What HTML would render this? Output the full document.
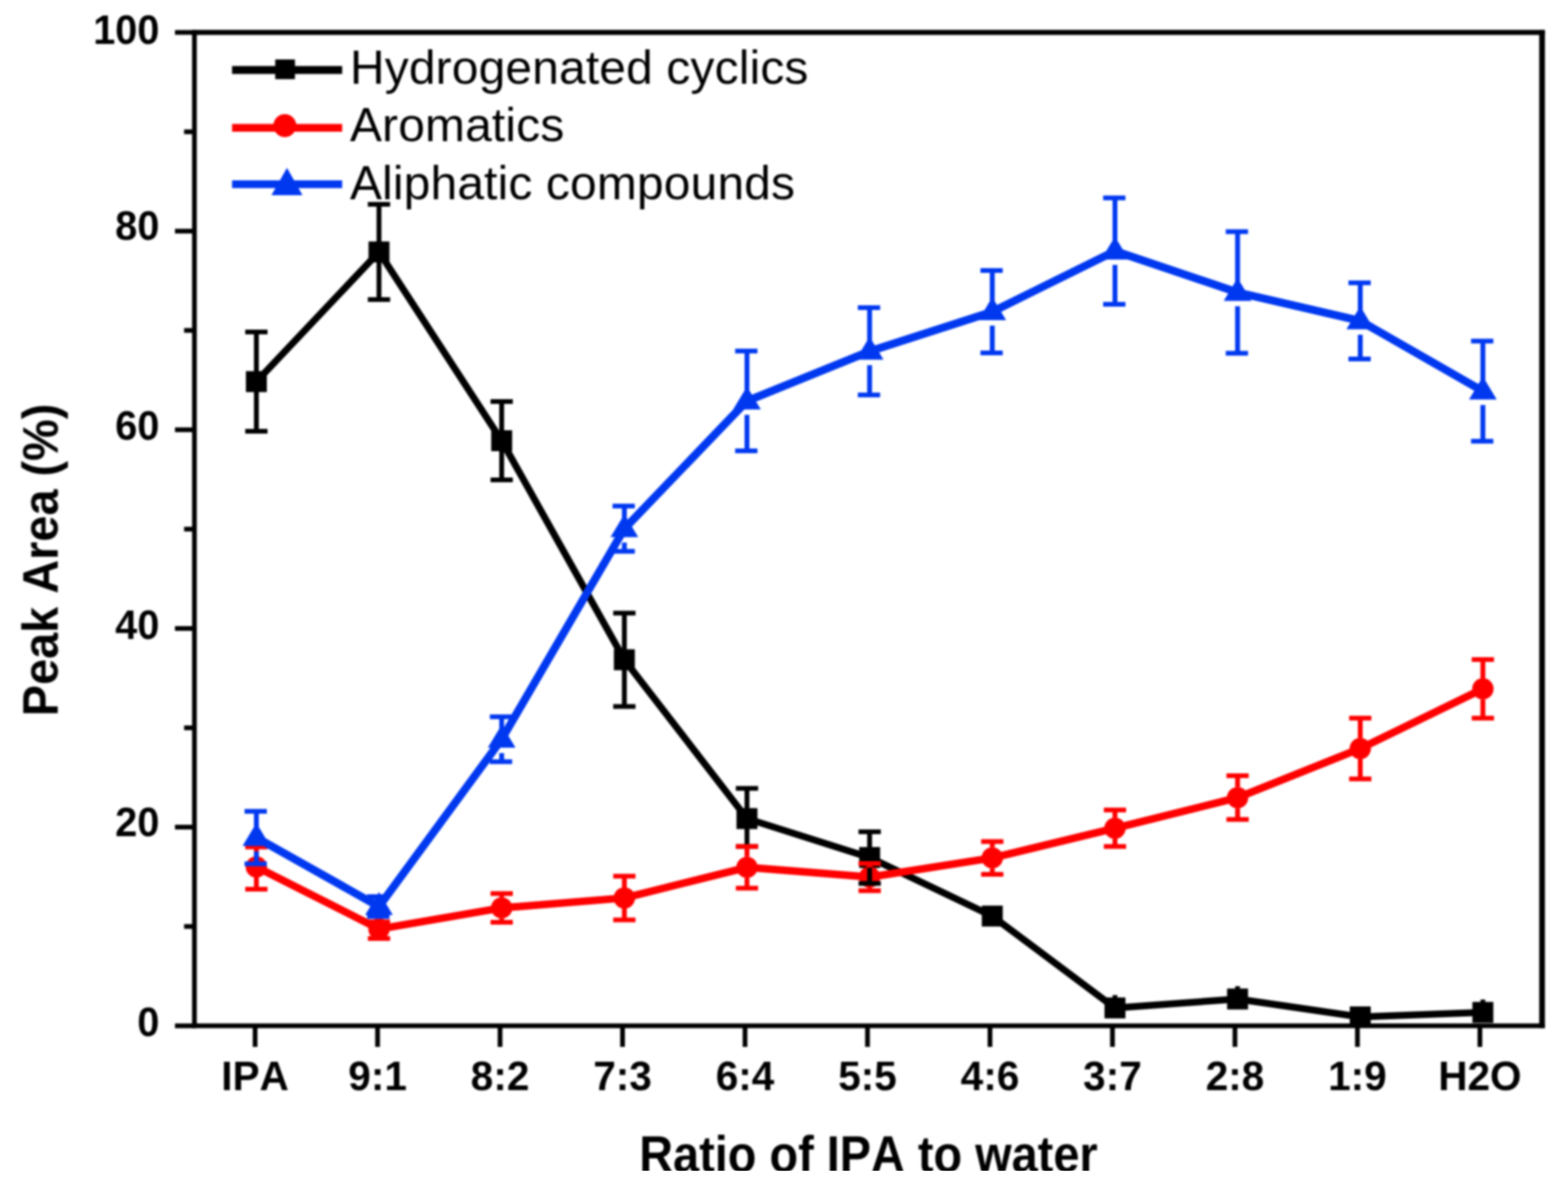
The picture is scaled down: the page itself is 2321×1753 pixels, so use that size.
<!DOCTYPE html>
<html lang="en"><head><meta charset="utf-8"><title>Peak Area vs Ratio of IPA to water</title>
<style>
html,body{margin:0;padding:0;background:#fff;}
body{width:2321px;height:1753px;overflow:hidden;}
svg{display:block;}
text{font-family:"Liberation Sans",sans-serif;fill:#000;font-kerning:none;}
.tick{font-weight:bold;font-size:60px;}
.title{font-weight:bold;font-size:69.4px;}
.leg{font-size:71px;letter-spacing:0.2px;}
</style></head><body>
<svg width="2321" height="1753" viewBox="0 0 2321 1753">
<rect x="0" y="0" width="2321" height="1753" fill="#fff"/>
<defs><filter id="soft" x="0" y="0" width="2321" height="1753" filterUnits="userSpaceOnUse" color-interpolation-filters="sRGB"><feGaussianBlur stdDeviation="1.5"/></filter></defs>
<g filter="url(#soft)">
<path d="M379.5 565.0 L561.0 373.0 L742.6 652.5 L924.2 976.8 L1105.7 1212.0 L1287.2 1269.6 L1468.8 1356.3 L1650.4 1492.3 L1831.9 1479.1 L2013.5 1505.6 L2195.0 1498.9" fill="none" stroke="#000000" stroke-width="10.2" stroke-linejoin="round"/>
<g fill="#000000">
<rect x="364.0" y="549.5" width="31.0" height="31.0"/>
<rect x="545.5" y="357.5" width="31.0" height="31.0"/>
<rect x="727.1" y="637.0" width="31.0" height="31.0"/>
<rect x="908.7" y="961.3" width="31.0" height="31.0"/>
<rect x="1090.2" y="1196.5" width="31.0" height="31.0"/>
<rect x="1271.8" y="1254.1" width="31.0" height="31.0"/>
<rect x="1453.3" y="1340.8" width="31.0" height="31.0"/>
<rect x="1634.9" y="1476.8" width="31.0" height="31.0"/>
<rect x="1816.4" y="1463.6" width="31.0" height="31.0"/>
<rect x="1998.0" y="1490.1" width="31.0" height="31.0"/>
<rect x="2179.5" y="1483.4" width="31.0" height="31.0"/>
</g>
<path d="M379.5 1283.5 L561.0 1375.4 L742.6 1344.2 L924.2 1329.5 L1105.7 1284.2 L1287.2 1298.6 L1468.8 1270.2 L1650.4 1226.3 L1831.9 1181.0 L2013.5 1108.3 L2195.0 1019.9" fill="none" stroke="#ff0000" stroke-width="11.2" stroke-linejoin="round"/>
<g fill="#ff0000">
<circle cx="379.5" cy="1283.5" r="15.8"/>
<circle cx="561.0" cy="1375.4" r="15.8"/>
<circle cx="742.6" cy="1344.2" r="15.8"/>
<circle cx="924.2" cy="1329.5" r="15.8"/>
<circle cx="1105.7" cy="1284.2" r="15.8"/>
<circle cx="1287.2" cy="1298.6" r="15.8"/>
<circle cx="1468.8" cy="1270.2" r="15.8"/>
<circle cx="1650.4" cy="1226.3" r="15.8"/>
<circle cx="1831.9" cy="1181.0" r="15.8"/>
<circle cx="2013.5" cy="1108.3" r="15.8"/>
<circle cx="2195.0" cy="1019.9" r="15.8"/>
</g>
<g fill="none" stroke="#000000">
<path d="M379.5 491.4V550.0" stroke-width="7.2"/>
<path d="M379.5 580.0V638.5" stroke-width="7.2"/>
<path d="M363.0 491.4H396.0M363.0 638.5H396.0" stroke-width="7.0"/>
<path d="M561.0 302.4V358.0" stroke-width="7.2"/>
<path d="M561.0 388.0V443.6" stroke-width="7.2"/>
<path d="M544.5 302.4H577.5M544.5 443.6H577.5" stroke-width="7.0"/>
<path d="M742.6 594.4V637.5" stroke-width="7.2"/>
<path d="M742.6 667.5V710.6" stroke-width="7.2"/>
<path d="M726.1 594.4H759.1M726.1 710.6H759.1" stroke-width="7.0"/>
<path d="M924.2 907.7V961.8" stroke-width="7.2"/>
<path d="M924.2 991.8V1045.9" stroke-width="7.2"/>
<path d="M907.7 907.7H940.7M907.7 1045.9H940.7" stroke-width="7.0"/>
<path d="M1105.7 1167.3V1197.0" stroke-width="7.2"/>
<path d="M1105.7 1227.0V1253.2" stroke-width="7.2"/>
<path d="M1089.2 1167.3H1122.2M1089.2 1253.2H1122.2" stroke-width="7.0"/>
<path d="M1287.2 1231.4V1254.6" stroke-width="7.2"/>
<path d="M1287.2 1284.6V1307.9" stroke-width="7.2"/>
<path d="M1270.8 1231.4H1303.8M1270.8 1307.9H1303.8" stroke-width="7.0"/>
</g>
<g fill="none" stroke="#ff0000">
<path d="M379.5 1254.1V1268.0" stroke-width="7.2"/>
<path d="M379.5 1299.0V1316.6" stroke-width="7.2"/>
<path d="M363.0 1254.1H396.0M363.0 1316.6H396.0" stroke-width="7.0"/>
<path d="M544.5 1365.1H577.5M544.5 1389.4H577.5" stroke-width="7.0"/>
<path d="M742.6 1322.9V1328.7" stroke-width="7.2"/>
<path d="M742.6 1359.7V1365.5" stroke-width="7.2"/>
<path d="M726.1 1322.9H759.1M726.1 1365.5H759.1" stroke-width="7.0"/>
<path d="M924.2 1297.2V1314.0" stroke-width="7.2"/>
<path d="M924.2 1345.0V1361.9" stroke-width="7.2"/>
<path d="M907.7 1297.2H940.7M907.7 1361.9H940.7" stroke-width="7.0"/>
<path d="M1105.7 1253.3V1268.7" stroke-width="7.2"/>
<path d="M1105.7 1299.7V1315.1" stroke-width="7.2"/>
<path d="M1089.2 1253.3H1122.2M1089.2 1315.1H1122.2" stroke-width="7.0"/>
<path d="M1287.2 1278.5V1283.1" stroke-width="7.2"/>
<path d="M1287.2 1314.1V1318.8" stroke-width="7.2"/>
<path d="M1270.8 1278.5H1303.8M1270.8 1318.8H1303.8" stroke-width="7.0"/>
<path d="M1468.8 1246.1V1254.7" stroke-width="7.2"/>
<path d="M1468.8 1285.7V1294.4" stroke-width="7.2"/>
<path d="M1452.3 1246.1H1485.3M1452.3 1294.4H1485.3" stroke-width="7.0"/>
<path d="M1650.4 1199.2V1210.8" stroke-width="7.2"/>
<path d="M1650.4 1241.8V1253.3" stroke-width="7.2"/>
<path d="M1633.9 1199.2H1666.9M1633.9 1253.3H1666.9" stroke-width="7.0"/>
<path d="M1831.9 1148.6V1165.5" stroke-width="7.2"/>
<path d="M1831.9 1196.5V1213.3" stroke-width="7.2"/>
<path d="M1815.4 1148.6H1848.4M1815.4 1213.3H1848.4" stroke-width="7.0"/>
<path d="M2013.5 1063.3V1092.8" stroke-width="7.2"/>
<path d="M2013.5 1123.8V1153.3" stroke-width="7.2"/>
<path d="M1997.0 1063.3H2030.0M1997.0 1153.3H2030.0" stroke-width="7.0"/>
<path d="M2195.0 976.5V1004.4" stroke-width="7.2"/>
<path d="M2195.0 1035.4V1063.3" stroke-width="7.2"/>
<path d="M2178.5 976.5H2211.5M2178.5 1063.3H2211.5" stroke-width="7.0"/>
</g>
<path d="M379.5 1240.1 L561.0 1342.3 L742.6 1094.5 L924.2 782.8 L1105.7 593.7 L1287.2 520.1 L1468.8 461.6 L1650.4 371.7 L1831.9 432.9 L2013.5 475.1 L2195.0 579.1" fill="none" stroke="#0038f0" stroke-width="11.8" stroke-linejoin="round"/>
<g fill="#0038f0">
<path d="M379.5 1218.6L400.0 1252.6L359.0 1252.6Z"/>
<path d="M561.0 1320.8L581.5 1354.8L540.5 1354.8Z"/>
<path d="M742.6 1073.0L763.1 1107.0L722.1 1107.0Z"/>
<path d="M924.2 761.3L944.7 795.3L903.7 795.3Z"/>
<path d="M1105.7 572.2L1126.2 606.2L1085.2 606.2Z"/>
<path d="M1287.2 498.6L1307.8 532.6L1266.8 532.6Z"/>
<path d="M1468.8 440.1L1489.3 474.1L1448.3 474.1Z"/>
<path d="M1650.4 350.2L1670.9 384.2L1629.9 384.2Z"/>
<path d="M1831.9 411.4L1852.4 445.4L1811.4 445.4Z"/>
<path d="M2013.5 453.6L2034.0 487.6L1993.0 487.6Z"/>
<path d="M2195.0 557.6L2215.5 591.6L2174.5 591.6Z"/>
</g>
<g fill="none" stroke="#0038f0">
<path d="M379.5 1201.3V1224.1" stroke-width="7.2"/>
<path d="M379.5 1260.6V1278.9" stroke-width="7.2"/>
<path d="M362.0 1201.3H395.0M362.0 1278.9H395.0" stroke-width="7.0"/>
<path d="M543.5 1327.6H576.5M543.5 1357.0H576.5" stroke-width="7.0"/>
<path d="M742.6 1061.2V1078.5" stroke-width="7.2"/>
<path d="M742.6 1115.0V1127.7" stroke-width="7.2"/>
<path d="M725.1 1061.2H758.1M725.1 1127.7H758.1" stroke-width="7.0"/>
<path d="M924.2 749.3V766.8" stroke-width="7.2"/>
<path d="M924.2 803.3V816.3" stroke-width="7.2"/>
<path d="M906.7 749.3H939.7M906.7 816.3H939.7" stroke-width="7.0"/>
<path d="M1105.7 519.8V577.7" stroke-width="7.2"/>
<path d="M1105.7 614.2V667.5" stroke-width="7.2"/>
<path d="M1088.2 519.8H1121.2M1088.2 667.5H1121.2" stroke-width="7.0"/>
<path d="M1287.2 455.4V504.1" stroke-width="7.2"/>
<path d="M1287.2 540.6V584.8" stroke-width="7.2"/>
<path d="M1269.8 455.4H1302.8M1269.8 584.8H1302.8" stroke-width="7.0"/>
<path d="M1468.8 400.6V445.6" stroke-width="7.2"/>
<path d="M1468.8 482.1V522.6" stroke-width="7.2"/>
<path d="M1451.3 400.6H1484.3M1451.3 522.6H1484.3" stroke-width="7.0"/>
<path d="M1650.4 293.0V355.7" stroke-width="7.2"/>
<path d="M1650.4 392.2V450.4" stroke-width="7.2"/>
<path d="M1632.9 293.0H1665.9M1632.9 450.4H1665.9" stroke-width="7.0"/>
<path d="M1831.9 342.9V416.9" stroke-width="7.2"/>
<path d="M1831.9 453.4V522.9" stroke-width="7.2"/>
<path d="M1814.4 342.9H1847.4M1814.4 522.9H1847.4" stroke-width="7.0"/>
<path d="M2013.5 418.8V459.1" stroke-width="7.2"/>
<path d="M2013.5 495.6V531.5" stroke-width="7.2"/>
<path d="M1996.0 418.8H2029.0M1996.0 531.5H2029.0" stroke-width="7.0"/>
<path d="M2195.0 505.1V563.1" stroke-width="7.2"/>
<path d="M2195.0 599.6V653.2" stroke-width="7.2"/>
<path d="M2177.5 505.1H2210.5M2177.5 653.2H2210.5" stroke-width="7.0"/>
</g>
<rect x="1646.9" y="1473.3" width="7" height="5" fill="#000"/>
<rect x="1828.4" y="1460.1" width="7" height="5" fill="#000"/>
<rect x="2191.5" y="1479.9" width="7" height="5" fill="#000"/>
<g fill="none" stroke="#000" stroke-linecap="butt">
<path d="M287.8 44.5V1522.3" stroke-width="7"/>
<path d="M284.3 1518.8H2286.8" stroke-width="7"/>
<path d="M284.3 48.0H2286.8" stroke-width="7.5"/>
<path d="M2282.6 44.5V1522.3" stroke-width="8.4"/>
<path d="M259.0 1518.8H287.8" stroke-width="7"/>
<path d="M272.5 1371.7H287.8" stroke-width="7"/>
<path d="M259.0 1224.6H287.8" stroke-width="7"/>
<path d="M272.5 1077.6H287.8" stroke-width="7"/>
<path d="M259.0 930.5H287.8" stroke-width="7"/>
<path d="M272.5 783.4H287.8" stroke-width="7"/>
<path d="M259.0 636.3H287.8" stroke-width="7"/>
<path d="M272.5 489.2H287.8" stroke-width="7"/>
<path d="M259.0 342.2H287.8" stroke-width="7"/>
<path d="M272.5 195.1H287.8" stroke-width="7"/>
<path d="M259.0 48.0H287.8" stroke-width="7"/>
<path d="M377.6 1518.8V1550.0" stroke-width="7"/>
<path d="M558.9 1518.8V1550.0" stroke-width="7"/>
<path d="M740.2 1518.8V1550.0" stroke-width="7"/>
<path d="M921.5 1518.8V1550.0" stroke-width="7"/>
<path d="M1102.8 1518.8V1550.0" stroke-width="7"/>
<path d="M1284.1 1518.8V1550.0" stroke-width="7"/>
<path d="M1465.4 1518.8V1550.0" stroke-width="7"/>
<path d="M1646.7 1518.8V1550.0" stroke-width="7"/>
<path d="M1828.0 1518.8V1550.0" stroke-width="7"/>
<path d="M2009.3 1518.8V1550.0" stroke-width="7"/>
<path d="M2190.6 1518.8V1550.0" stroke-width="7"/>
</g>
<g class="tick">
<text transform="translate(236 1534.1) scale(0.98 1.03)" text-anchor="end">0</text>
<text transform="translate(236 1238.4) scale(0.98 1.03)" text-anchor="end">20</text>
<text transform="translate(236 945.8) scale(0.98 1.03)" text-anchor="end">40</text>
<text transform="translate(236 651.2) scale(0.98 1.03)" text-anchor="end">60</text>
<text transform="translate(236 354.5) scale(0.98 1.03)" text-anchor="end">80</text>
<text transform="translate(236 65.3) scale(0.98 1.03)" text-anchor="end">100</text>
<text transform="translate(377.6 1614) scale(1 1.03)" text-anchor="middle">IPA</text>
<text transform="translate(558.9 1614) scale(1 1.03)" text-anchor="middle">9:1</text>
<text transform="translate(740.2 1614) scale(1 1.03)" text-anchor="middle">8:2</text>
<text transform="translate(921.5 1614) scale(1 1.03)" text-anchor="middle">7:3</text>
<text transform="translate(1102.8 1614) scale(1 1.03)" text-anchor="middle">6:4</text>
<text transform="translate(1284.1 1614) scale(1 1.03)" text-anchor="middle">5:5</text>
<text transform="translate(1465.4 1614) scale(1 1.03)" text-anchor="middle">4:6</text>
<text transform="translate(1646.7 1614) scale(1 1.03)" text-anchor="middle">3:7</text>
<text transform="translate(1828.0 1614) scale(1 1.03)" text-anchor="middle">2:8</text>
<text transform="translate(2009.3 1614) scale(1 1.03)" text-anchor="middle">1:9</text>
<text transform="translate(2190.6 1614) scale(1 1.03)" text-anchor="middle">H2O</text>
</g>
<defs><clipPath id="cut"><rect x="0" y="0" width="2321" height="1733.5"/></clipPath></defs>
<text class="title" transform="translate(85 829) rotate(-90) scale(1 1.07)" text-anchor="middle">Peak Area (%)</text>
<path d="M343.5 103.6H506.5" stroke="#000000" stroke-width="11.6" fill="none"/>
<g fill="#000000"><rect x="407.4" y="88.0" width="29.2" height="29.2"/></g>
<text class="leg" x="518" y="123.5">Hydrogenated cyclics</text>
<path d="M343.5 189.2H506.5" stroke="#ff0000" stroke-width="11.6" fill="none"/>
<g fill="#ff0000"><circle cx="421.6" cy="186.0" r="17.0"/></g>
<text class="leg" x="518" y="208.5">Aromatics</text>
<path d="M343.5 272.8H506.5" stroke="#0038f0" stroke-width="11.6" fill="none"/>
<g fill="#0038f0"><path d="M424.8 248.5L447.8 289.0L401.8 289.0Z"/></g>
<text class="leg" x="518" y="295.0">Aliphatic compounds</text>
</g>
<g clip-path="url(#cut)"><g filter="url(#soft)"><text class="title" transform="translate(1285.5 1734.5) scale(1 1.10)" text-anchor="middle">Ratio of IPA to water</text></g></g>
</svg>
</body></html>
